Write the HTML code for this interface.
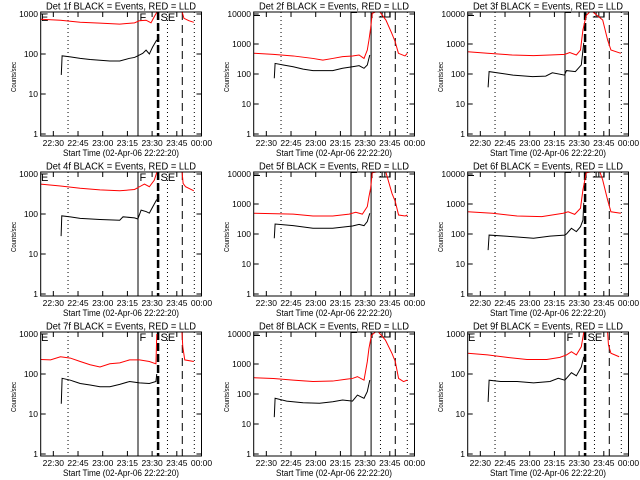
<!DOCTYPE html>
<html><head><meta charset="utf-8"><style>
html,body{margin:0;padding:0;background:#fff;}
svg{display:block;font-family:"Liberation Sans",sans-serif;}
</style></head><body>
<svg id="root" width="640" height="480" viewBox="0 0 640 480">
<rect x="0" y="0" width="640" height="480" fill="#fff"/>
</svg>
<script>
// ---- data (minutes since 22:22:20, counts/sec) ----
const detectorNames = ["1f","2f","3f","4f","5f","6f","7f","8f","9f"];
const axisMax = [1000,10000,10000,1000,10000,10000,1000,10000,1000];
const tickLabelsX = ["22:30","22:45","23:00","23:15","23:30","23:45","00:00"];
const tickTimesX = [7.67,22.67,37.67,52.67,67.67,82.67,97.67];
const tickLabels1000 = ["1","10","100","1000"];
const tickLabels10000 = ["1","10","100","1000","10000"];
const eventTimes = [16.6,59.1,71.3,77,86,93.3];

const black1=[[12.5,30],[13,90],[18,85],[24,78],[30,73],[36,70],[42,67],[48,67],[54,78],[57,82],[59,90],[62,104],[64,125],[66,100],[68,150],[70.5,225]];
const red1=[[0,740],[12,700],[24,620],[36,590],[48,560],[57,600],[60,680],[64,700],[67,600],[69,860],[70.5,1100],null,[86,1100],[87,780],[90,680],[93,620]];
const black2=[[12.5,72],[13,225],[18,200],[24,175],[30,145],[36,130],[42,130],[48,130],[54,155],[60,175],[64,190],[67,155],[69,200],[70.5,430]];
const red2=[[0,490],[12,450],[24,400],[36,330],[42,290],[48,330],[54,380],[60,400],[64,430],[67,330],[69,630],[70,1350],[71,3300],[72,10500],[76,13000],[80.3,6300],[83.9,2250],[85.9,1200],[87.9,490],[91.9,400],[93.3,490]];
const black3=[[12.4,36],[13,120],[27.5,92],[39.4,82],[47.4,85],[51.4,110],[58.8,92],[60,130],[65.4,120],[69,200],[70.5,1100]];
const red3=[[0,550],[12,490],[27,430],[40,410],[50,430],[59,450],[62,520],[66,430],[68.5,630],[70,3000],[72,9000],[75,13000],[82,6300],[85,1350],[87,630],[93,490]];
const black4=[[12.4,28],[12.8,90],[18,85],[24,78],[36,73],[48,70],[50,85],[57,80],[59,75],[61,125],[64,115],[66,105],[68,150],[70.5,230]];
const red4=[[0,560],[12,500],[24,440],[36,400],[48,380],[57,410],[60,480],[63,560],[66,480],[69,700],[70.5,1100],null,[85.9,1100],[86.5,580],[88,480],[93,380]];
const black5=[[12.5,72],[13,215],[24,190],[36,155],[48,155],[56,175],[60,185],[64,210],[67,190],[69,260],[70.5,490]];
const red5=[[0,490],[24,460],[36,400],[48,400],[58,460],[62,530],[66,460],[69,820],[70,1750],[71,3300],[72,11000],[80,13000],[84,2250],[86,1200],[88,430],[92,400],[93.3,430]];
const black6=[[12.4,29],[13,92],[27,82],[40,72],[50,85],[58.8,92],[60,100],[63,155],[66,120],[68.5,175],[70,290],[70.5,1100]];
const red6=[[0,550],[15,490],[30,400],[45,380],[58,490],[61,550],[65,450],[68.5,720],[70,3000],[72,11000],[80,13000],[82,6300],[85,1350],[87,550],[93,490]];
const black7=[[12.5,18],[13,78],[18,70],[24,58],[30,53],[36,48],[42,48],[48,55],[54,65],[60,60],[66,58],[70,65],[70.5,100]];
const red7=[[0,230],[6,225],[12,270],[18,250],[24,205],[30,170],[36,150],[42,180],[48,190],[54,225],[60,225],[66,205],[70,180],[70.5,1000],null,[85.8,1100],[86.3,480],[87.5,225],[93,205]];
const black8=[[12.5,17],[13,72],[20,58],[30,51],[40,49],[48,55],[54,63],[60,58],[63,92],[67,72],[69,120],[70.5,290]];
const red8=[[0,350],[12,330],[24,290],[36,260],[48,270],[56,310],[60,330],[63,380],[67,290],[69,1200],[70,3300],[71.5,9000],[75,13000],[80,6300],[84,2250],[86,1200],[88,330],[91,260],[93.3,290]];
const black9=[[12.4,20],[13,70],[20,65],[30,65],[40,60],[50,65],[55,78],[59,70],[63,108],[66,90],[69,150],[70.5,270]];
const red9=[[0,330],[12,300],[24,260],[36,230],[48,230],[56,260],[60,300],[63,360],[66,300],[69,480],[70.5,1100],null,[85,1100],[85.5,530],[87,330],[92,270]];

const blackSeries=[black1,black2,black3,black4,black5,black6,black7,black8,black9];
const redSeries=[red1,red2,red3,red4,red5,red6,red7,red8,red9];

// ---- drawing ----
const NS="http://www.w3.org/2000/svg";
const root=document.getElementById('root');
const BL=40.7, BR=201.5, BT=12, BB=136, TSPAN=97.67;
function mk(tag,attrs,parent){const e=document.createElementNS(NS,tag);for(const k in attrs)e.setAttribute(k,attrs[k]);parent.appendChild(e);return e;}
function xScale(t){return BL+t*(BR-BL)/TSPAN;}
function yScale(v,max){const dec=max>=10000?30:40;return 134-dec*Math.log10(v);}
function pathFrom(series,max){let d="",pen=false;for(const p of series){if(p===null){pen=false;continue;}d+=(pen?"L":"M")+xScale(p[0]).toFixed(2)+" "+yScale(p[1],max).toFixed(2)+" ";pen=true;}return d;}

for(let i=0;i<9;i++){
  const col=i%3,row=Math.floor(i/3);
  const ox=[0,213,427][col],oy=row*160;
  const max=axisMax[i];
  const g=mk('g',{transform:`translate(${ox},${oy})`},root);
  
  
  const cp=mk('clipPath',{id:'clip'+i},g);
  mk('rect',{x:BL,y:BT,width:BR-BL,height:BB-BT},cp);

  const title=mk('text',{x:121,y:9.5,'text-anchor':'middle','font-size':'10',textLength:'150',lengthAdjust:'spacingAndGlyphs'},g);
  title.textContent='Det '+detectorNames[i]+' BLACK = Events, RED = LLD';
  
  

  // event lines
  const styles = col===1
    ? [{da:'1 3',w:1},{da:'',w:1},{da:'',w:1},{da:'1 3',w:1},{da:'8 5',w:1},{da:'1 3',w:1}]
    : [{da:'1 3',w:1},{da:'',w:1},{da:'8 3',w:2.5},{da:'1 3',w:1},{da:'8 5',w:1},{da:'1 3',w:1}];
  eventTimes.forEach((t,k)=>{
    const x=xScale(t);
    const l=mk('line',{x1:x,x2:x,y1:BT,y2:BB,stroke:'#000','stroke-width':styles[k].w},g);
    if(styles[k].da)l.setAttribute('stroke-dasharray',styles[k].da);
    
    
  });

  // markers
  if(max===1000){
    [['E',41],['F',139.5],['SE',160.5]].forEach(m=>{
      const tx=mk('text',{x:m[1],y:21,'font-size':'11'},g);
      tx.textContent=m[0];
      
      
    });
  } else {
    const b=mk('path',{d:`M${BL} 15.5 H47 M${xScale(59.1)} 19 V12.5 H${xScale(59.1)+6} M${xScale(71.3)+1} 18 V13 M${xScale(76)} 17 h6 v-5 M${xScale(78)} 12 v5 h8 v-5`,stroke:'#000','stroke-width':1,fill:'none'},g);
    
    
  }

  // series
  const rp=mk('path',{d:pathFrom(redSeries[i],max),stroke:'#ff0000','stroke-width':1,fill:'none','clip-path':`url(#clip${i})`},g);
  
  
  const bp=mk('path',{d:pathFrom(blackSeries[i],max),stroke:'#000','stroke-width':1,fill:'none','clip-path':`url(#clip${i})`},g);
  
  

  // frame
  const fr=mk('rect',{x:BL,y:BT,width:BR-BL,height:BB-BT,fill:'none',stroke:'#000','stroke-width':1},g);
  
  

  // y ticks
  const yl = max===1000?tickLabels1000:tickLabels10000;
  yl.forEach(lab=>{
    const y=yScale(+lab,max);
    const tk=mk('path',{d:`M${BL} ${y} h5 M${BR} ${y} h-5`,stroke:'#000','stroke-width':1},g);
    
    
    const tx=mk('text',{x:38,y:y+3,'text-anchor':'end','font-size':'8.5'},g);
    tx.textContent=lab;
    
    
  });
  // x ticks
  tickTimesX.forEach((t,k)=>{
    const x=xScale(t);
    const tk=mk('path',{d:`M${x} ${BB} v-5 M${x} ${BT} v5`,stroke:'#000','stroke-width':1},g);
    
    
    const tx=mk('text',{x:x,y:146,'text-anchor':'middle','font-size':'8.5'},g);
    tx.textContent=tickLabelsX[k];
    
    
  });
  const xt=mk('text',{x:121,y:156,'text-anchor':'middle','font-size':'9',textLength:'116',lengthAdjust:'spacingAndGlyphs'},g);
  xt.textContent='Start Time (02-Apr-06 22:22:20)';
  
  
  const yt=mk('text',{x:0,y:0,'text-anchor':'middle','font-size':'7.5',transform:'translate(16,77) rotate(-90)',textLength:'30',lengthAdjust:'spacingAndGlyphs'},g);
  yt.textContent='Counts/sec';
  
  
}
</script>
</body></html>
